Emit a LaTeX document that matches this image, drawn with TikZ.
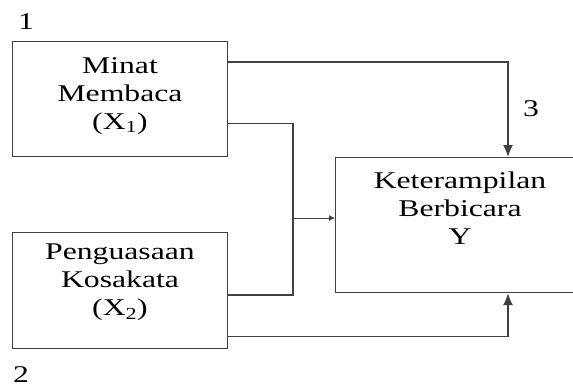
\documentclass[tikz,border=0pt]{standalone}
\usepackage{fontspec}
\setmainfont{Liberation Serif}[FakeStretch=1.32]
\usetikzlibrary{arrows.meta}
\begin{document}
\begin{tikzpicture}[x=1pt,y=-1pt,
  box/.style={draw=black!75,line width=1.2pt,inner sep=0pt,anchor=north west},
  txt/.style={align=center,inner sep=0pt,anchor=north,font=\fontsize{24}{28}\selectfont},
  num/.style={inner sep=0pt,anchor=base west,font=\fontsize{24}{28}\selectfont},
  conn/.style={draw=black!75,line width=1.3pt},
  big/.style={-{Latex[length=12pt,width=10pt]}},
  small/.style={-{Latex[length=6pt,width=6pt]}},
  ]
\path[use as bounding box, clip] (0,0) rectangle (573,388);
\fill[white] (0,0) rectangle (573,388);
% boxes
\node[box,minimum width=215pt,minimum height=115pt] (b1) at (12,41) {};
\node[box,minimum width=215pt,minimum height=116pt] (b2) at (12,232) {};
\node[box,minimum width=250pt,minimum height=135pt] (by) at (335,157) {};
% texts
\node[txt] (t1) at (120,57) {Minat\\Membaca\\(X\textsubscript{1})};
\node[txt] (t2) at (120,244) {Penguasaan\\Kosakata\\(X\textsubscript{2})};
\node[txt] (ty) at (460,172) {Keterampilan\\Berbicara\\Y};
\node[num] (n1) at (18,29) {1};
\node[num] (n2) at (13,382) {2};
\node[num] (n3) at (523,116) {3};
% connectors
\coordinate (j) at (293,218);
\draw[conn,big] ([yshift=-21pt]b1.north east) -| ([xshift=173pt]by.north west);
\draw[conn] ([yshift=34pt]b1.south east) -| (j) |- ([yshift=-63pt]b2.north east);
\draw[conn,small,line width=0.9pt] (j) -- (by.west |- j);
\draw[conn,big] ([yshift=13pt]b2.south east) -| ([xshift=173pt]by.south west);
\end{tikzpicture}
\end{document}
